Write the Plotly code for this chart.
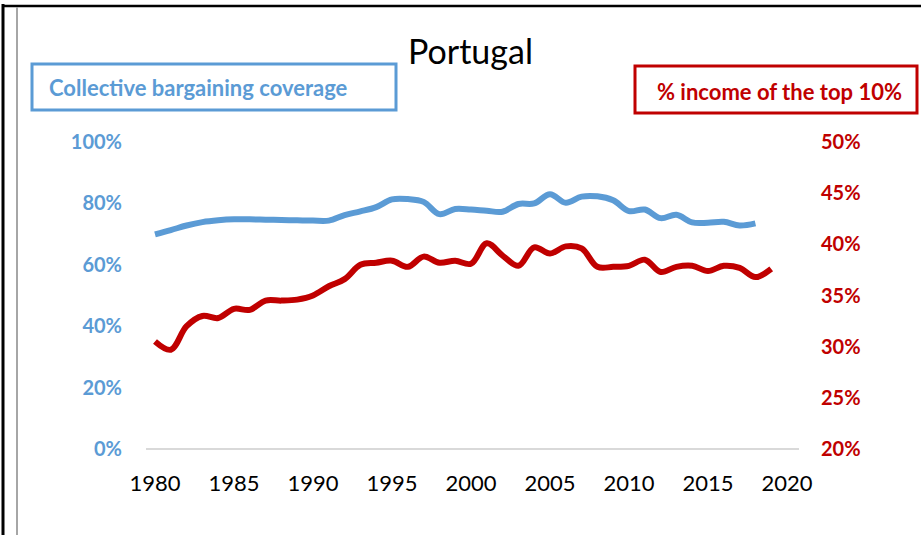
import plotly.graph_objects as go

years_blue = list(range(1980, 2019))
coverage = [69.9, 71.3, 72.8, 73.9, 74.5, 74.8, 74.8, 74.7, 74.6, 74.5,
            74.4, 74.4, 76.2, 77.4, 78.8, 81.3, 81.4, 80.5, 76.5, 78.2,
            78.0, 77.6, 77.3, 79.8, 80.0, 83.0, 80.2, 82.2, 82.3, 81.0,
            77.5, 78.0, 75.2, 76.3, 73.8, 73.7, 74.0, 72.8, 73.5]

years_red = list(range(1980, 2020))
top10 = [30.5, 29.7, 32.0, 33.0, 32.8, 33.7, 33.6, 34.5, 34.5, 34.6,
         35.0, 35.9, 36.6, 38.0, 38.2, 38.4, 37.8, 38.8, 38.2, 38.4,
         38.1, 40.1, 38.9, 37.9, 39.7, 39.1, 39.8, 39.6, 37.8, 37.8,
         37.9, 38.5, 37.3, 37.8, 37.9, 37.4, 37.9, 37.7, 36.8, 37.6]

x_ticks = [1980, 1985, 1990, 1995, 2000, 2005, 2010, 2015, 2020]
left_ticks = [0, 20, 40, 60, 80, 100]
right_ticks = [20, 25, 30, 35, 40, 45, 50]

BLUE = "#5B9BD5"
RED = "#C00000"
FONT = "Lato"

W, H = 921, 535
L, R = 146, 799
T, B = 142, 449

def px(x):
    return (x - L) / (R - L)

def py(y):
    return (B - y) / (B - T)

fig = go.Figure()
fig.add_trace(go.Scatter(x=years_blue, y=coverage, mode="lines",
                         line=dict(color=BLUE, width=6, shape="spline", smoothing=1.0),
                         yaxis="y", showlegend=False, hoverinfo="skip"))
fig.add_trace(go.Scatter(x=years_red, y=top10, mode="lines",
                         line=dict(color=RED, width=6, shape="spline", smoothing=1.0),
                         yaxis="y2", showlegend=False, hoverinfo="skip"))

x0 = 1980 - (155 - L) / 15.8
x1 = 2020 + (R - 787) / 15.8

fig.update_layout(
    width=W, height=H,
    margin=dict(l=L, r=W - R, t=T, b=H - B, pad=0),
    paper_bgcolor="white", plot_bgcolor="white",
    xaxis=dict(range=[x0, x1], tickvals=x_ticks, ticktext=[str(v) for v in x_ticks],
               showgrid=False, zeroline=False, showline=False, ticks="",
               tickfont=dict(family=FONT, size=22, color="black"),
               ticklabelstandoff=19),
    yaxis=dict(range=[0, 100], tickvals=left_ticks, ticktext=[f"{v}%" for v in left_ticks],
               showgrid=False, zeroline=False, showline=False, ticks="",
               tickfont=dict(family=FONT, size=20, color=BLUE, weight="bold"),
               ticklabelstandoff=23),
    yaxis2=dict(range=[20, 50], tickvals=right_ticks, ticktext=[f"{v}%" for v in right_ticks],
                overlaying="y", side="right",
                showgrid=False, zeroline=False, showline=False, ticks="",
                tickfont=dict(family=FONT, size=20, color=RED, weight="bold"),
                ticklabelstandoff=21),
)

shapes = []
shapes.append(dict(type="line", xref="paper", yref="paper", x0=0, x1=1, y0=0, y1=0,
                   line=dict(color="#D9D9D9", width=2), layer="below"))
shapes.append(dict(type="line", xref="paper", yref="paper", x0=px(3), x1=px(3), y0=py(4), y1=py(540),
                   line=dict(color="black", width=3)))
shapes.append(dict(type="line", xref="paper", yref="paper", x0=px(2), x1=px(925), y0=py(6), y1=py(6),
                   line=dict(color="black", width=2.5)))
shapes.append(dict(type="line", xref="paper", yref="paper", x0=px(17), x1=px(17), y0=py(7), y1=py(540),
                   line=dict(color="#A6A6A6", width=2)))
shapes.append(dict(type="rect", xref="paper", yref="paper", x0=px(32), x1=px(396), y0=py(64), y1=py(110),
                   line=dict(color=BLUE, width=3), fillcolor="rgba(0,0,0,0)"))
shapes.append(dict(type="rect", xref="paper", yref="paper", x0=px(635), x1=px(917), y0=py(66), y1=py(113),
                   line=dict(color=RED, width=3), fillcolor="rgba(0,0,0,0)"))
fig.update_layout(shapes=shapes)

ann = []
ann.append(dict(text="Portugal", xref="paper", yref="paper", x=px(470), y=py(50),
                xanchor="center", yanchor="middle", showarrow=False,
                font=dict(family=FONT, size=34, color="black")))
ann.append(dict(text="Collective bargaining coverage", xref="paper", yref="paper", x=px(47), y=py(88),
                xanchor="left", yanchor="middle", showarrow=False,
                font=dict(family=FONT, size=22, color=BLUE, weight="bold")))
ann.append(dict(text="% income of the top 10%", xref="paper", yref="paper", x=px(655), y=py(92),
                xanchor="left", yanchor="middle", showarrow=False,
                font=dict(family=FONT, size=22, color=RED, weight="bold")))
fig.update_layout(annotations=ann)

fig.write_html("out.html", config={"displayModeBar": False},
               post_script="document.body.style.margin='0';document.body.style.overflow='hidden';")
